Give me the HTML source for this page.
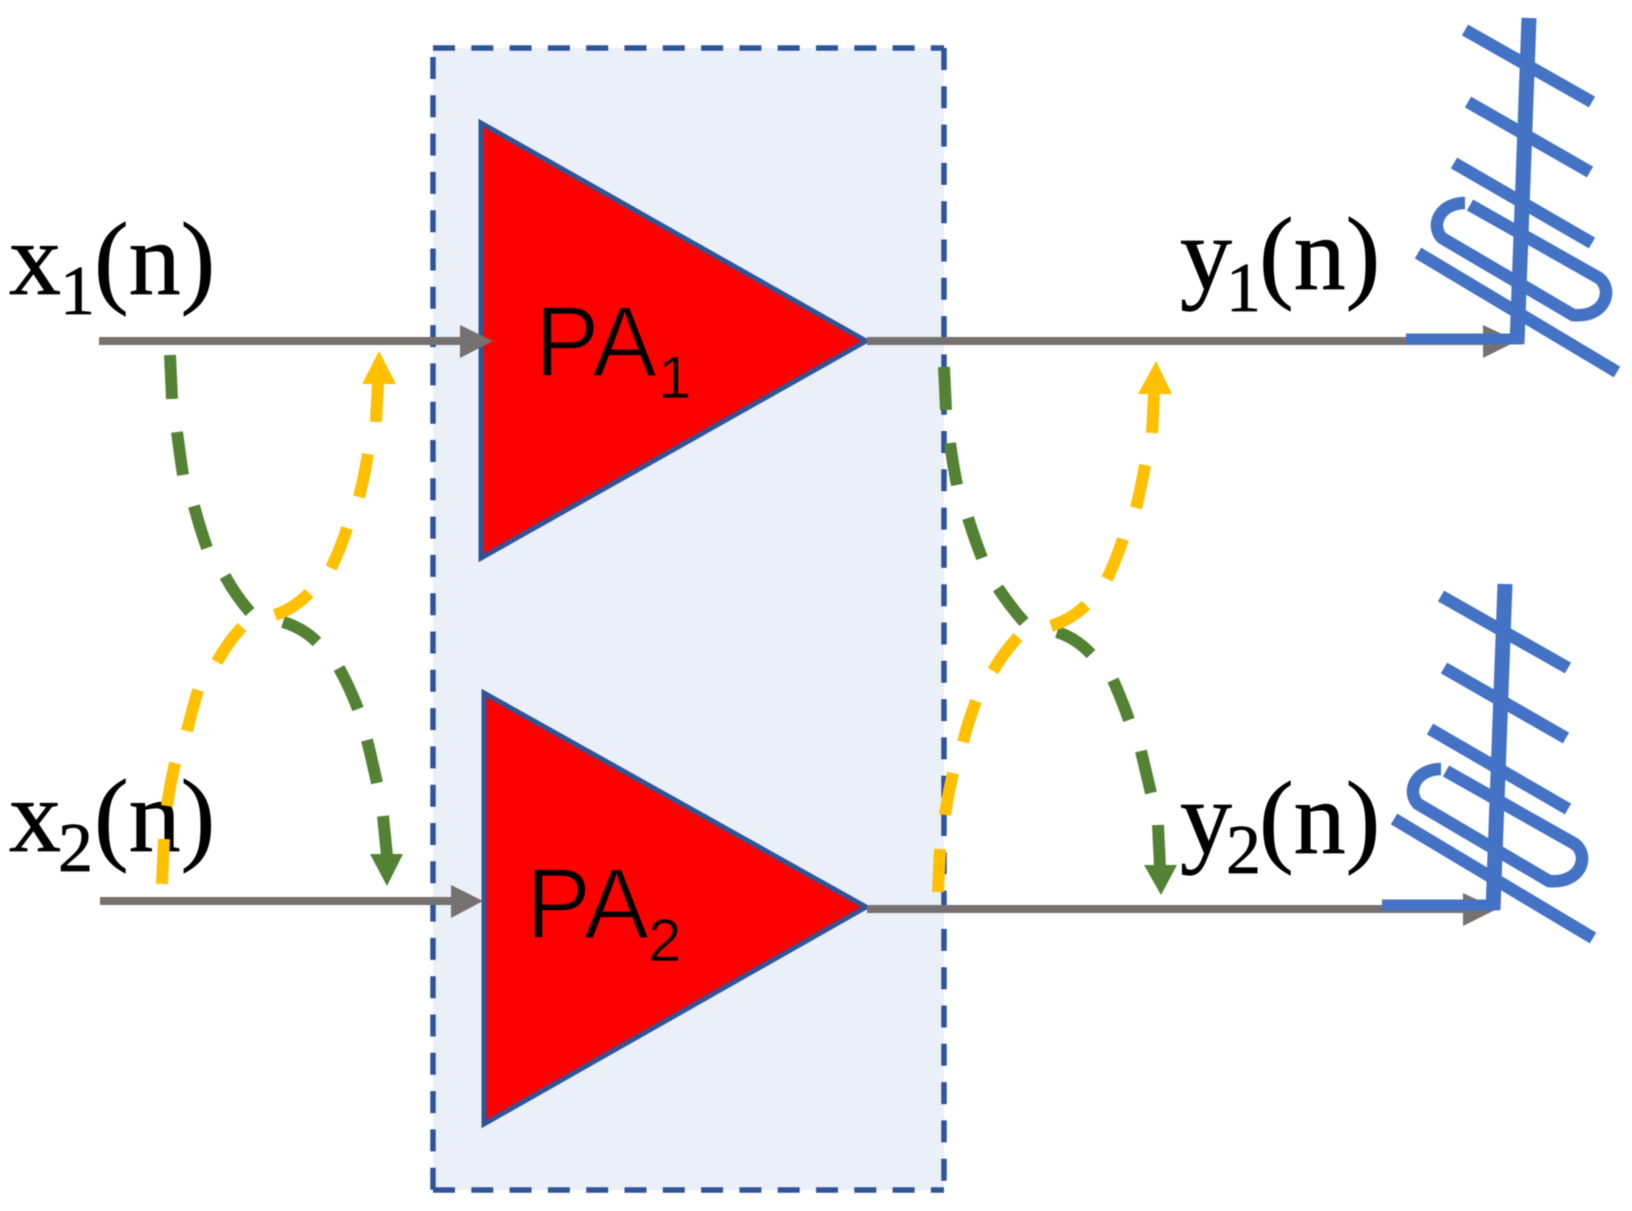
<!DOCTYPE html>
<html><head><meta charset="utf-8"><style>html,body{margin:0;padding:0;background:#fff}svg{display:block;filter:blur(.6px)}</style></head><body>
<svg xmlns="http://www.w3.org/2000/svg" xmlns:xlink="http://www.w3.org/1999/xlink" width="1632" height="1211" viewBox="0 0 1632 1211">
<rect width="1632" height="1211" fill="#fff"/>
<rect x="433" y="48" width="511" height="1142" fill="#EAEFF8"/>
<g stroke="#2F5597" stroke-width="5.5" fill="none" stroke-dasharray="22 16.3">
<path d="M433 57V1190"/><path d="M944 48V1190"/><path d="M433 48H944"/><path d="M433 1190H944"/>
</g>
<g fill="#FF0000" stroke="#2F5597" stroke-width="5">
<path d="M481 123V558L866 341Z"/>
<path d="M484 693V1124L866 907Z"/>
</g>
<g font-family="'Liberation Sans',sans-serif" fill="#000" stroke="#f00" stroke-width="1.8">
<text x="535" y="376" font-size="100" textLength="122" lengthAdjust="spacingAndGlyphs">PA</text>
<text x="526" y="938" font-size="100" textLength="123" lengthAdjust="spacingAndGlyphs">PA</text>
</g>
<g font-family="'Liberation Sans',sans-serif" fill="#000" stroke="#f00" stroke-width=".8">
<text x="658" y="398" font-size="60">1</text>
<text x="648" y="961" font-size="60">2</text>
</g>
<g stroke="#767171" stroke-width="8" fill="none">
<path d="M99 341H462"/><path d="M100 901H453"/><path d="M867 341H1485"/><path d="M867 909H1465"/>
</g>
<g fill="#767171">
<path d="M460 325L493 341L460 358Z"/>
<path d="M451 885L483 901L451 918Z"/>
<path d="M1483 325L1517 341L1483 358Z"/>
<path d="M1463 893L1497 909L1463 926Z"/>
</g>
<g font-family="'Liberation Serif',serif" fill="#000" stroke="#000" stroke-width=".7">
<text x="9" y="294" font-size="104">x</text><text x="60" y="314" font-size="70">1</text><text x="94" y="294" font-size="104">(n)</text>
<text x="9" y="851" font-size="104">x</text><text x="58" y="871" font-size="70">2</text><text x="94" y="851" font-size="104">(n)</text>
<text x="1180" y="289" font-size="104">y</text><text x="1226" y="311" font-size="70">1</text><text x="1259" y="289" font-size="104">(n)</text>
<text x="1180" y="853" font-size="104">y</text><text x="1226" y="873" font-size="70">2</text><text x="1259" y="853" font-size="104">(n)</text>
</g>
<g fill="none" stroke="#548235" stroke-width="12">
<path d="M170 355L172 399M177 432Q180 455 183 475M194 506Q200 528 207 548M225 576Q236 596 250 612M283 622Q303 628 317 642M339 668Q350 688 358 709M367 740Q372 760 377 783M383 816L387 856"/>
<path d="M944 367L946 410M950 443Q953 465 957 485M968 518Q975 540 982 558M998 588Q1010 606 1024 622M1057 632Q1076 638 1091 654M1113 680Q1122 700 1129 720M1141 751Q1146 772 1151 793M1158 825L1160 867"/>
</g>
<g fill="#548235"><path d="M370 854H403L387 886Z"/><path d="M1144 865H1177L1161 895Z"/></g>
<g fill="none" stroke="#FFC000" stroke-width="12">
<path d="M378 383L376 422M368 454Q364 478 359 497M347 528Q340 550 331 568M309 593Q295 608 275 615M242 627Q228 642 217 662M198 690Q192 710 187 731M175 763Q170 785 167 806M164 839L162 884"/>
<path d="M1154 394L1152 433M1145 465Q1141 488 1136 508M1123 539Q1116 560 1107 579M1086 605Q1072 619 1051 626M1018 637Q1004 652 993 671M976 701Q968 722 963 742M953 773Q948 795 945 815M940 849L938 892"/>
</g>
<g fill="#FFC000"><path d="M379 351L396 384H362Z"/><path d="M1156 361L1172 394H1138Z"/></g>
<g id="ant" fill="none" stroke="#4472C4" stroke-width="12.5">
<path d="M1529 18L1517 344" stroke-width="15"/>
<path d="M1406 339H1522" stroke-width="11"/>
<path d="M1465 30L1592 102M1468 102L1590 172M1454 163L1592 243M1418 253L1617 372"/>
<path d="M1470 205L1599 278C1614 290 1605 318 1573 315L1442 238C1430 225 1440 203 1465 203"/>
</g>
<use xlink:href="#ant" transform="translate(-24 566)"/>
</svg>
</body></html>
